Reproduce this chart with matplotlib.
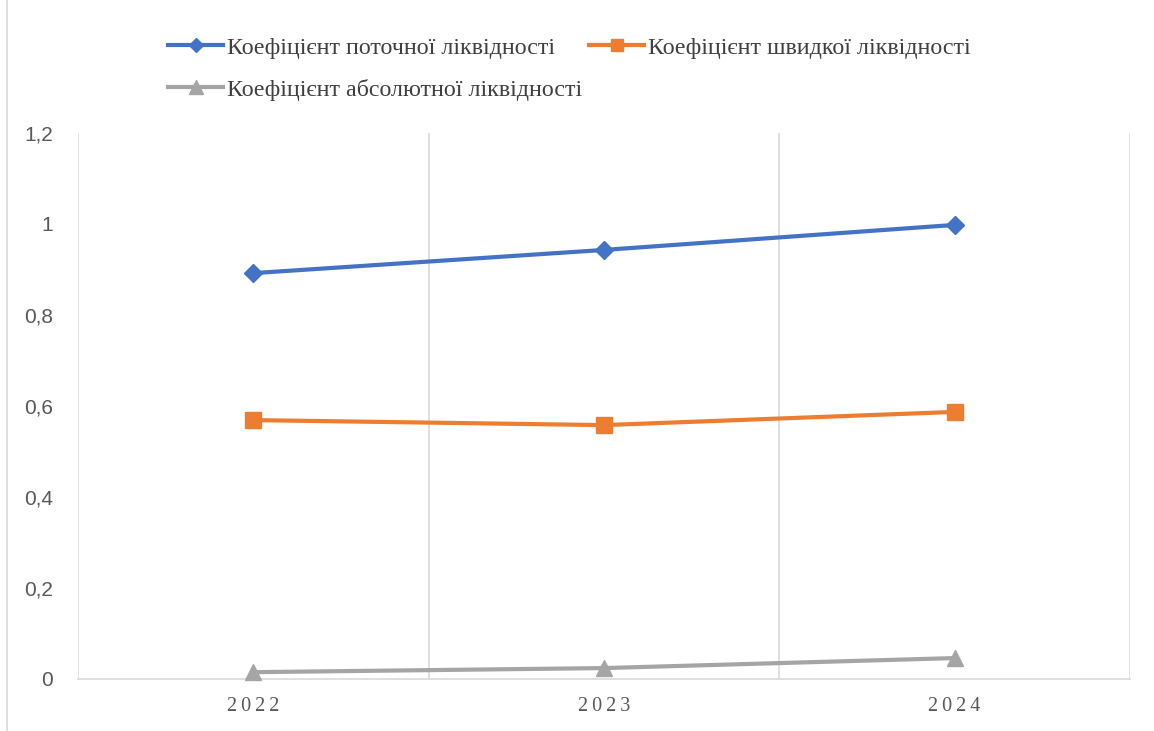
import matplotlib
matplotlib.use("Agg")
import matplotlib.pyplot as plt
from matplotlib.lines import Line2D

years = ["2022", "2023", "2024"]
current_ratio = [0.892, 0.943, 0.998]
quick_ratio = [0.569, 0.558, 0.587]
absolute_ratio = [0.015, 0.024, 0.046]
series_names = [
    "Коефіцієнт поточної ліквідності",
    "Коефіцієнт швидкої ліквідності",
    "Коефіцієнт абсолютної ліквідності",
]
y_ticks = [0, 0.2, 0.4, 0.6, 0.8, 1.0, 1.2]
y_tick_labels = ["0", "0,2", "0,4", "0,6", "0,8", "1", "1,2"]

fig = plt.figure(figsize=(11.54, 7.31), dpi=100)
ax = fig.add_axes([78 / 1154, 1 - 679 / 731, (1130 - 78) / 1154, (679 - 133) / 731])

x = list(range(len(years)))
grid_c = "#D9D9D9"
for gx in [-0.5, 0.5, 1.5, 2.5]:
    ax.axvline(gx, color=grid_c, lw=1.2, zorder=0)

styles = [
    (current_ratio, "#4472C4", "D", 9.5, 7.5),
    (quick_ratio, "#ED7D31", "s", 11, 9),
    (absolute_ratio, "#A5A5A5", "^", 11, 9.5),
]
handles = []
for (vals, col, mk, ms, lms), name in zip(styles, series_names):
    ax.plot(x, vals, color=col, lw=3, marker=mk, markersize=ms,
            markeredgecolor=col, markerfacecolor=col, zorder=3, clip_on=False)
    handles.append(Line2D([], [], color=col, lw=3, marker=mk, markersize=lms,
                          markeredgecolor=col, markerfacecolor=col))

ax.set_xlim(-0.5, 2.5)
ax.set_ylim(0, 1.2)
ax.set_yticks(y_ticks)
ax.set_yticklabels(y_tick_labels, fontfamily="Liberation Sans", fontsize=15, color="#595959")
ax.set_xticks(x)
ax.set_xticklabels(["\u2009".join(y) for y in years], fontfamily="Liberation Serif",
                   fontsize=14.5, color="#595959")
ax.tick_params(axis="both", length=0)
ax.tick_params(axis="y", pad=18)
ax.tick_params(axis="x", pad=13)
for s in ["top", "right", "left"]:
    ax.spines[s].set_visible(False)
ax.spines["bottom"].set_color(grid_c)
ax.spines["bottom"].set_linewidth(1.2)

order = [0, 2, 1]
fig.legend([handles[i] for i in order], [series_names[i] for i in order],
           loc="upper left", bbox_to_anchor=(168 / 1154, 1 - 37 / 731), ncol=2,
           frameon=False, prop={"family": "Liberation Serif", "size": 17.3},
           borderpad=0, borderaxespad=0,
           handlelength=2.3, handletextpad=0.15, columnspacing=0.3,
           labelspacing=0.83, labelcolor="#404040")

# outer frame edge on the left
fig.add_artist(Line2D([7 / 1154, 7 / 1154], [0, 1], color=grid_c, lw=1.2,
                      transform=fig.transFigure))

fig.savefig("out.png", dpi=100)
